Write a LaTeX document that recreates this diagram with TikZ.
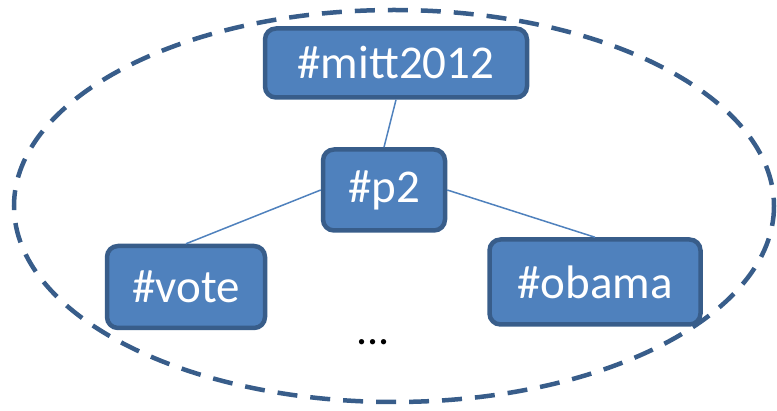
\documentclass[tikz,border=0pt]{standalone}
\usepackage{fontspec}
\setmainfont{Carlito}
\usetikzlibrary{positioning}
\definecolor{tagfill}{HTML}{4F81BD}
\definecolor{tagdraw}{HTML}{385D8A}
\begin{document}
\begin{tikzpicture}[
  x=1pt, y=-1pt,
  tag/.style={rectangle, rounded corners=11pt, draw=tagdraw, fill=tagfill,
              line width=4.5pt, text=white, align=center,
              font=\fontsize{47}{50}\selectfont},
  link/.style={draw=tagfill, line width=1.5pt},
  group/.style={draw=tagdraw, line width=4.5pt, dash pattern=on 20pt off 13pt}
]
\useasboundingbox (0,0) rectangle (777,411);

\draw[group] (394,206) ellipse [x radius=380, y radius=196];

\node[tag, minimum width=262pt, minimum height=69pt] (mitt) at (396,63) {\#mitt2012};
\node[tag, minimum width=122pt, minimum height=81pt] (p2) at (384,190) {\#p2};
\node[tag, minimum width=158pt, minimum height=82pt] (vote) at (186,287) {\#vote};
\node[tag, minimum width=211pt, minimum height=85pt] (obama) at (595,282) {\#obama};
\node[anchor=base, inner sep=0pt, font=\fontsize{44}{46}\selectfont] (more) at (373,345) {...};

\draw[link] (mitt.south) -- (p2.north);
\draw[link] (p2.west) -- (vote.north);
\draw[link] (p2.east) -- (obama.north);

\end{tikzpicture}
\end{document}
